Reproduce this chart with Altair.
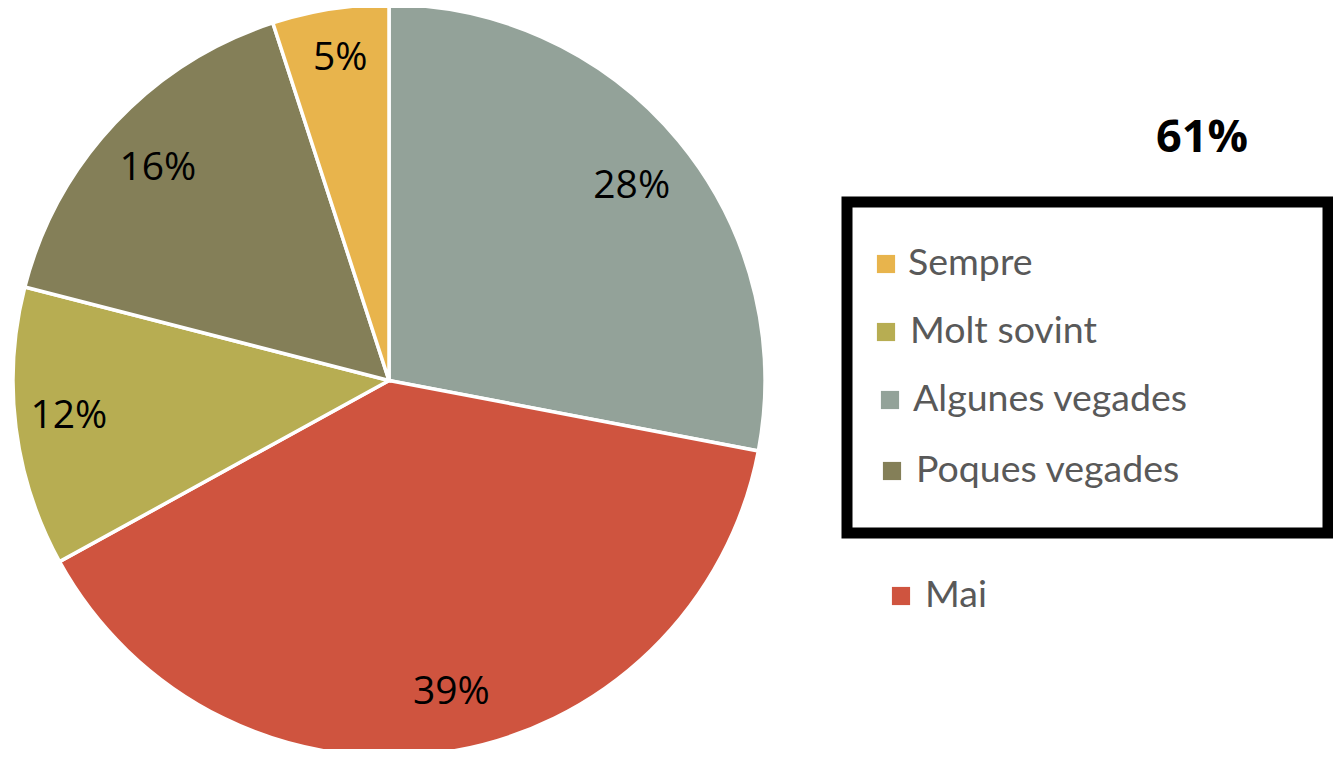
import math
import altair as alt
import pandas as pd

# ---- data ----
categories = ["Algunes vegades", "Mai", "Molt sovint", "Poques vegades", "Sempre"]
values = [28, 39, 12, 16, 5]
colors = ["#93A299", "#CF543F", "#B7AD52", "#847F58", "#E8B44C"]

legend_labels = ["Sempre", "Molt sovint", "Algunes vegades", "Poques vegades", "Mai"]
highlight_text = "61%"

# ---- layout (pixels inside the view) ----
W, H = 1325, 741
CX, CY = 381, 372.5
R = 376
label_radius = [311, 318, 322, 314, 326]       # label distance from centre, px
label_angle_shift = [0.9, -2.3, 0.9, -0.6, 0.4]  # label angle tweak, degrees

legend_sq_x = [878, 878, 882, 884, 893]
legend_sq_y = [256, 324, 392, 463, 588]
legend_txt_x = [900, 902, 905, 908, 917]

total = sum(values)

df = pd.DataFrame({
    "cat": categories,
    "value": values,
    "order": list(range(len(categories))),
    "lr": label_radius,
    "shift": [a / 360 * total for a in label_angle_shift],
})
df["label"] = df["value"].astype(str) + "%"

theta_scale = alt.Scale(domain=[0, total], range=[0, 2 * math.pi])
color_scale = alt.Scale(domain=categories, range=colors)

pie = alt.Chart(df).mark_arc(radius=R, stroke="white", strokeWidth=3.5).encode(
    theta=alt.Theta("value:Q", stack=True, scale=theta_scale),
    order=alt.Order("order:Q", sort="ascending"),
    color=alt.Color("cat:N", scale=color_scale, legend=None),
    x=alt.value(CX),
    y=alt.value(CY),
)

labels = alt.Chart(df).transform_window(
    cum="sum(value)", sort=[alt.SortField("order", order="ascending")],
    frame=[None, 0],
).transform_calculate(
    mid="datum.cum - datum.value / 2 + datum.shift"
).mark_text(
    font="Open Sans", fontSize=39, color="black",
    align="center", baseline="middle",
).encode(
    theta=alt.Theta("mid:Q", stack=None, scale=theta_scale),
    radius=alt.Radius("lr:Q", scale=None),
    text="label:N",
    x=alt.value(CX),
    y=alt.value(CY),
)

leg_df = pd.DataFrame({
    "cat": legend_labels,
    "sx": legend_sq_x,
    "sy": legend_sq_y,
    "tx": legend_txt_x,
})

leg_sq = alt.Chart(leg_df).mark_square(size=330, opacity=1, filled=True).encode(
    x=alt.X("sx:Q", scale=None, axis=None),
    y=alt.Y("sy:Q", scale=None, axis=None),
    color=alt.Color("cat:N", scale=color_scale, legend=None),
)

leg_txt = alt.Chart(leg_df).mark_text(
    font="Lato", fontSize=37.5, color="#595959", align="left", baseline="middle",
).encode(
    x=alt.X("tx:Q", scale=None, axis=None),
    y=alt.Y("sy:Q", scale=None, axis=None),
    text="cat:N",
)

box = alt.Chart(pd.DataFrame({"a": [0]})).mark_rect(
    fill=None, stroke="black", strokeWidth=11, filled=False,
).encode(
    x=alt.value(839), x2=alt.value(1320),
    y=alt.value(194), y2=alt.value(525),
)

hl = alt.Chart(pd.DataFrame({"t": [highlight_text]})).mark_text(
    font="Open Sans", fontWeight="bold", fontSize=45, color="black",
    align="center", baseline="middle",
).encode(
    x=alt.value(1194), y=alt.value(130), text="t:N",
)

chart = alt.layer(pie, labels, box, leg_sq, leg_txt, hl).properties(
    width=W, height=H,
    autosize=alt.AutoSizeParams(type="none"),
    padding=0,
).configure_view(stroke=None)

chart.save("out.html", embed_options={"renderer": "svg", "actions": False})
